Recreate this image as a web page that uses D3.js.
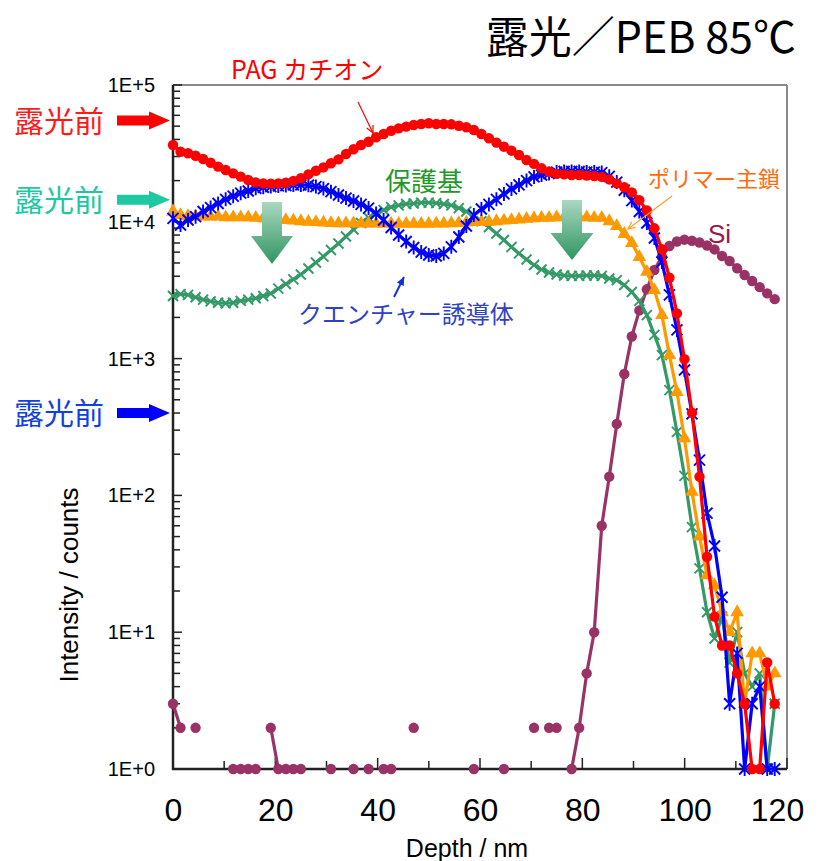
<!DOCTYPE html>
<html>
<head>
<meta charset="utf-8">
<script src="https://cdn.jsdelivr.net/npm/d3@7"></script>
<style>
  html, body { margin: 0; padding: 0; background: #fff; }
  svg { display: block; }
</style>
</head>
<body>
<svg id="chart" width="818" height="861"></svg>
<script>
// Depth of each sputter step (nm)
const depth = [0, 1.47, 2.94, 4.41, 5.88, 7.35, 8.82, 10.29, 11.76, 13.23,
  14.70, 16.17, 17.64, 19.11, 20.58, 22.05, 23.52, 24.99, 26.46, 27.93,
  29.40, 30.87, 32.34, 33.81, 35.28, 36.75, 38.22, 39.69, 41.16, 42.63,
  44.10, 45.57, 47.04, 48.51, 49.98, 51.45, 52.92, 54.39, 55.86, 57.33,
  58.80, 60.27, 61.74, 63.21, 64.68, 66.15, 67.62, 69.09, 70.56, 72.03,
  73.50, 74.97, 76.44, 77.91, 79.38, 80.85, 82.32, 83.79, 85.26, 86.73,
  88.20, 89.67, 91.14, 92.61, 94.08, 95.55, 97.02, 98.49, 99.96, 101.43,
  102.90, 104.37, 105.84, 107.31, 108.78, 110.25, 111.72, 113.19, 114.66, 116.13, 117.60];

// PAG cation (counts)
const pagCation = [36400, 32500, 31700, 30400, 28800, 27000, 25300, 23900, 22600, 21400,
  20200, 19400, 19100, 19000, 19100, 19300, 19900, 20800, 22200, 23600,
  25000, 26800, 28600, 31300, 33900, 36400, 38500, 41500, 43800, 46300,
  48200, 49600, 51000, 51900, 52500, 51900, 51900, 51600, 50400, 49100,
  46900, 43800, 40800, 37900, 35400, 33100, 30800, 28300, 26500, 24600,
  23200, 22400, 22200, 22000, 22000, 21800, 21600, 21300, 20400, 19100,
  17900, 16400, 14400, 12100, 8960, 6300, 3900, 2140, 990, 402,
  137, 35.6, 13, 8, 8, 5, 3, 1, 1, 6, 3];

// Quencher derivative (counts)
const quencher = [10600, 9480, 10300, 10900, 11900, 12700, 13600, 14600, 15400, 16200,
  16800, 17600, 17900, 18100, 18300, 18400, 18600, 18600, 18500, 18100,
  17500, 16600, 15700, 14900, 14200, 13400, 12600, 11500, 10300, 9090,
  8010, 7180, 6490, 6010, 5720, 5620, 5870, 6560, 7740, 9320,
  11200, 12400, 13400, 14600, 16000, 17400, 18600, 20000, 21300, 22000,
  22500, 23100, 23300, 23300, 23300, 23100, 23100, 22900, 21500, 19500,
  17000, 14300, 11900, 9800, 7610, 5080, 2920, 1620, 826, 394,
  181, 74.3, 42.7, 18, 3, 7, 1, 3, 4, 1, 1];

// Polymer main chain (counts)
const polymerChain = [11900, 11200, 11000, 10900, 10900, 10900, 10900, 10800, 10800, 10800,
  10800, 10700, 10600, 10500, 10400, 10300, 10200, 10100, 10000, 9950,
  9880, 9800, 9750, 9750, 9750, 9700, 9700, 9700, 9700, 9700,
  9650, 9650, 9650, 9650, 9650, 9700, 9700, 9750, 9800, 9850,
  9970, 10000, 10000, 10100, 10200, 10300, 10400, 10500, 10600, 10700,
  10700, 10800, 10800, 10800, 10800, 10800, 10700, 10700, 10100, 9320,
  8150, 7000, 5530, 4300, 3170, 2080, 1060, 570, 261, 106,
  50, 26, 22, 14, 10, 14, 3, 7, 7, 4, 5];

// Protecting group (counts)
const protectGroup = [2870, 2960, 2920, 2810, 2700, 2620, 2560, 2540, 2560, 2640,
  2700, 2760, 2870, 2990, 3250, 3510, 3790, 4120, 4560, 5040,
  5570, 6220, 6940, 7810, 8790, 9800, 10700, 11500, 12200, 12800,
  13200, 13500, 13600, 13800, 13800, 13700, 13500, 13200, 12600, 11900,
  11000, 10100, 9160, 8210, 7360, 6540, 5870, 5300, 4830, 4480,
  4260, 4120, 4050, 4020, 4020, 4050, 4050, 4020, 3850, 3750,
  3450, 3070, 2640, 2080, 1490, 1060, 589, 291, 139, 58.7,
  29.3, 14, 9, 13, 6, 10, 5, 4, 5, 1, 3];

// Si substrate (counts, 0 = not detected)
const silicon = [3, 2, 0, 2, 0, 0, 0, 0, 1, 1,
  1, 1, 0, 2, 1, 1, 1, 1, 0, 0,
  0, 1, 0, 0, 1, 0, 1, 0, 1, 1,
  0, 0, 2, 0, 0, 0, 0, 0, 0, 0,
  1, 0, 0, 0, 1, 0, 0, 0, 2, 0,
  2, 2, 0, 1, 2, 5, 10, 60, 137, 333,
  771, 1450, 2250, 3210, 4440, 5560, 6650, 7180, 7400, 7260,
  7060, 6710, 6280, 5620, 5170, 4570, 4080, 3690, 3330, 3000, 2720];

const xTicks = [0, 20, 40, 60, 80, 100, 120];
const xMinorTicks = [10, 30, 50, 70, 90, 110];
const yTicks = [1, 10, 100, 1000, 10000, 100000];

const svg = d3.select("#chart");
const W = 818, H = 861;
const plot = { left: 173, right: 787, top: 85, bottom: 769 };

svg.append("rect").attr("width", W).attr("height", H).attr("fill", "#fff");

const x = d3.scaleLinear().domain([0, 120]).range([plot.left, plot.right]);
const y = d3.scaleLog().domain([1, 1e5]).range([plot.bottom, plot.top]);

const latin = "'Liberation Sans', Arial, sans-serif";
const cjk = "'Noto Sans CJK JP', 'Noto Sans', sans-serif";

// Frame: grey top/right edges
svg.append("line").attr("x1", plot.left).attr("x2", plot.right)
  .attr("y1", plot.top).attr("y2", plot.top)
  .attr("stroke", "#8a8a8a").attr("stroke-width", 2);
svg.append("line").attr("x1", plot.right).attr("x2", plot.right)
  .attr("y1", plot.top).attr("y2", plot.bottom)
  .attr("stroke", "#8a8a8a").attr("stroke-width", 2);

// Y axis (log) with inward ticks
const yMinor = [];
for (let p = 0; p < 5; p++) for (let m = 2; m <= 9; m++) yMinor.push(m * Math.pow(10, p));

const yAxis = d3.axisLeft(y).tickValues(yTicks)
  .tickFormat(d => "1E+" + Math.round(Math.log10(d)))
  .tickSizeInner(0).tickSizeOuter(0).tickPadding(18);
const gy = svg.append("g").attr("transform", `translate(${plot.left},0)`).call(yAxis);
gy.select(".domain").remove();
gy.selectAll("text").attr("font-family", latin).attr("font-size", 20).attr("fill", "#000");

svg.append("g").selectAll("line").data(yMinor).join("line")
  .attr("x1", plot.left).attr("x2", plot.left + 7)
  .attr("y1", d => y(d)).attr("y2", d => y(d))
  .attr("stroke", "#222").attr("stroke-width", 1.5);
svg.append("g").selectAll("line").data(yTicks).join("line")
  .attr("x1", plot.left).attr("x2", plot.left + 9)
  .attr("y1", d => y(d)).attr("y2", d => y(d))
  .attr("stroke", "#222").attr("stroke-width", 1.5);

// X axis with inward ticks
const xAxis = d3.axisBottom(x).tickValues(xTicks).tickFormat(d3.format("d"))
  .tickSizeInner(0).tickSizeOuter(0).tickPadding(29);
const gx = svg.append("g").attr("transform", `translate(0,${plot.bottom})`).call(xAxis);
gx.select(".domain").remove();
gx.selectAll("text").attr("font-family", latin).attr("font-size", 32).attr("fill", "#000");
gx.selectAll(".tick").filter(d => d === 120).select("text").attr("dx", -10);

svg.append("g").selectAll("line").data(xMinorTicks).join("line")
  .attr("x1", d => x(d)).attr("x2", d => x(d))
  .attr("y1", plot.bottom).attr("y2", plot.bottom - 8)
  .attr("stroke", "#222").attr("stroke-width", 1.5);
svg.append("g").selectAll("line").data(xTicks).join("line")
  .attr("x1", d => x(d)).attr("x2", d => x(d))
  .attr("y1", plot.bottom).attr("y2", plot.bottom - 11)
  .attr("stroke", "#222").attr("stroke-width", 1.5);

// Axis lines
svg.append("line").attr("x1", plot.left).attr("x2", plot.left)
  .attr("y1", plot.top).attr("y2", plot.bottom + 1)
  .attr("stroke", "#222").attr("stroke-width", 2.5);
svg.append("line").attr("x1", plot.left - 1).attr("x2", plot.right)
  .attr("y1", plot.bottom).attr("y2", plot.bottom)
  .attr("stroke", "#222").attr("stroke-width", 2.5);

// Axis titles
svg.append("text").attr("x", 467).attr("y", 857).attr("text-anchor", "middle")
  .attr("font-family", latin).attr("font-size", 25).text("Depth / nm");
svg.append("text").attr("transform", "translate(78,585) rotate(-90)").attr("text-anchor", "middle")
  .attr("font-family", latin).attr("font-size", 26).text("Intensity / counts");

// Title
svg.append("text").attr("x", 796).attr("y", 53).attr("text-anchor", "end")
  .attr("font-family", cjk).attr("font-size", 43).attr("fill", "#000")
  .text("露光／PEB 85℃");

// Series
const series = [
  { name: "Si", values: silicon, color: "#993366", marker: "circle" },
  { name: "保護基", values: protectGroup, color: "#339966", marker: "cross" },
  { name: "ポリマー主鎖", values: polymerChain, color: "#ff9900", marker: "triangle" },
  { name: "クエンチャー誘導体", values: quencher, color: "#0000ff", marker: "star" },
  { name: "PAG カチオン", values: pagCation, color: "#ff0000", marker: "circle" }
];

const line = d3.line()
  .defined(d => d[1] > 0)
  .x(d => x(d[0]))
  .y(d => y(d[1]));

const markerPath = {
  star: "M-5.5,-5.5L5.5,5.5M-5.5,5.5L5.5,-5.5M0,-7L0,7",
  cross: "M-5,-5L5,5M-5,5L5,-5",
  triangle: d3.symbol(d3.symbolTriangle, 80)()
};

series.forEach(s => {
  const pts = depth.map((d, i) => [d, s.values[i]]);
  const g = svg.append("g");
  g.append("path").datum(pts).attr("d", line)
    .attr("fill", "none").attr("stroke", s.color).attr("stroke-width", 3.2)
    .attr("stroke-linejoin", "round");
  const shown = pts.filter(p => p[1] > 0);
  if (s.marker === "circle") {
    g.selectAll("circle").data(shown).join("circle")
      .attr("cx", p => x(p[0])).attr("cy", p => y(p[1])).attr("r", 5.2)
      .attr("fill", s.color);
  } else if (s.marker === "triangle") {
    g.selectAll("path.m").data(shown).join("path").attr("class", "m")
      .attr("transform", p => `translate(${x(p[0])},${y(p[1])})`)
      .attr("d", markerPath.triangle).attr("fill", s.color);
  } else {
    g.selectAll("path.m").data(shown).join("path").attr("class", "m")
      .attr("transform", p => `translate(${x(p[0])},${y(p[1])})`)
      .attr("d", markerPath[s.marker]).attr("fill", "none")
      .attr("stroke", s.color).attr("stroke-width", 1.9);
  }
});

// Gradient arrows (intensity decrease after exposure)
const defs = svg.append("defs");
const grad = defs.append("linearGradient").attr("id", "downGrad")
  .attr("x1", 0).attr("y1", 0).attr("x2", 0).attr("y2", 1);
grad.append("stop").attr("offset", "0%").attr("stop-color", "#a9d8c1");
grad.append("stop").attr("offset", "100%").attr("stop-color", "#2f9561");

function downArrow(cx, top, headTop, tip, shaftW, headW) {
  const p = d3.path();
  p.moveTo(cx - shaftW / 2, top);
  p.lineTo(cx + shaftW / 2, top);
  p.lineTo(cx + shaftW / 2, headTop);
  p.lineTo(cx + headW / 2, headTop);
  p.lineTo(cx, tip);
  p.lineTo(cx - headW / 2, headTop);
  p.lineTo(cx - shaftW / 2, headTop);
  p.closePath();
  svg.append("path").attr("d", p.toString()).attr("fill", "url(#downGrad)");
}
downArrow(272, 202, 236, 264, 20, 42);
downArrow(572, 200, 233, 260, 20, 43);

// "露光前" level markers at the left
const before = [
  { level: 55000, color: "#ff1a1a", arrow: "#ff0000" },
  { level: 14500, color: "#1ec8a0", arrow: "#1ec8a0" },
  { level: 400, color: "#1440e0", arrow: "#0000ff" }
];
before.forEach(b => {
  const cy = y(b.level);
  svg.append("text").attr("x", 14).attr("y", cy + 11)
    .attr("font-family", cjk).attr("font-size", 30).attr("fill", b.color).text("露光前");
  const p = d3.path();
  p.moveTo(117, cy - 5); p.lineTo(149, cy - 5); p.lineTo(149, cy - 9);
  p.lineTo(170, cy); p.lineTo(149, cy + 9); p.lineTo(149, cy + 5);
  p.lineTo(117, cy + 5); p.closePath();
  svg.append("path").attr("d", p.toString()).attr("fill", b.arrow);
});

// Series labels with pointers
function pointer(x1, y1, x2, y2, color, w, filled) {
  svg.append("line").attr("x1", x1).attr("y1", y1).attr("x2", x2).attr("y2", y2)
    .attr("stroke", color).attr("stroke-width", w);
  const a = Math.atan2(y2 - y1, x2 - x1), L = filled ? 9 : 8, s = 0.45;
  const pA = [x2 - L * Math.cos(a - s), y2 - L * Math.sin(a - s)];
  const pB = [x2 - L * Math.cos(a + s), y2 - L * Math.sin(a + s)];
  if (filled) {
    svg.append("path").attr("d", `M${x2},${y2}L${pA[0]},${pA[1]}L${pB[0]},${pB[1]}Z`).attr("fill", color);
  } else {
    svg.append("path").attr("d", `M${pA[0]},${pA[1]}L${x2},${y2}L${pB[0]},${pB[1]}`)
      .attr("fill", "none").attr("stroke", color).attr("stroke-width", w);
  }
}

svg.append("text").attr("x", 231).attr("y", 79).attr("font-family", cjk)
  .attr("font-size", 25).attr("fill", "#ff0000").text("PAG カチオン");
pointer(358, 102, 373, 133, "#ff0000", 1.2, false);

svg.append("text").attr("x", 385).attr("y", 191).attr("font-family", cjk)
  .attr("font-size", 26).attr("fill", "#1f9a2a").text("保護基");

svg.append("text").attr("x", 648).attr("y", 187).attr("font-family", cjk)
  .attr("font-size", 22).attr("fill", "#ff6a10").text("ポリマー主鎖");
pointer(672, 196, 628, 229, "#ffa020", 1.2, false);

svg.append("text").attr("x", 708).attr("y", 243).attr("font-family", latin)
  .attr("font-size", 26).attr("fill", "#99184a").text("Si");

svg.append("text").attr("x", 298).attr("y", 323).attr("font-family", cjk)
  .attr("font-size", 24).attr("fill", "#3040c8").text("クエンチャー誘導体");
pointer(394, 297, 404, 277, "#1030e0", 2, true);
</script>
</body>
</html>
